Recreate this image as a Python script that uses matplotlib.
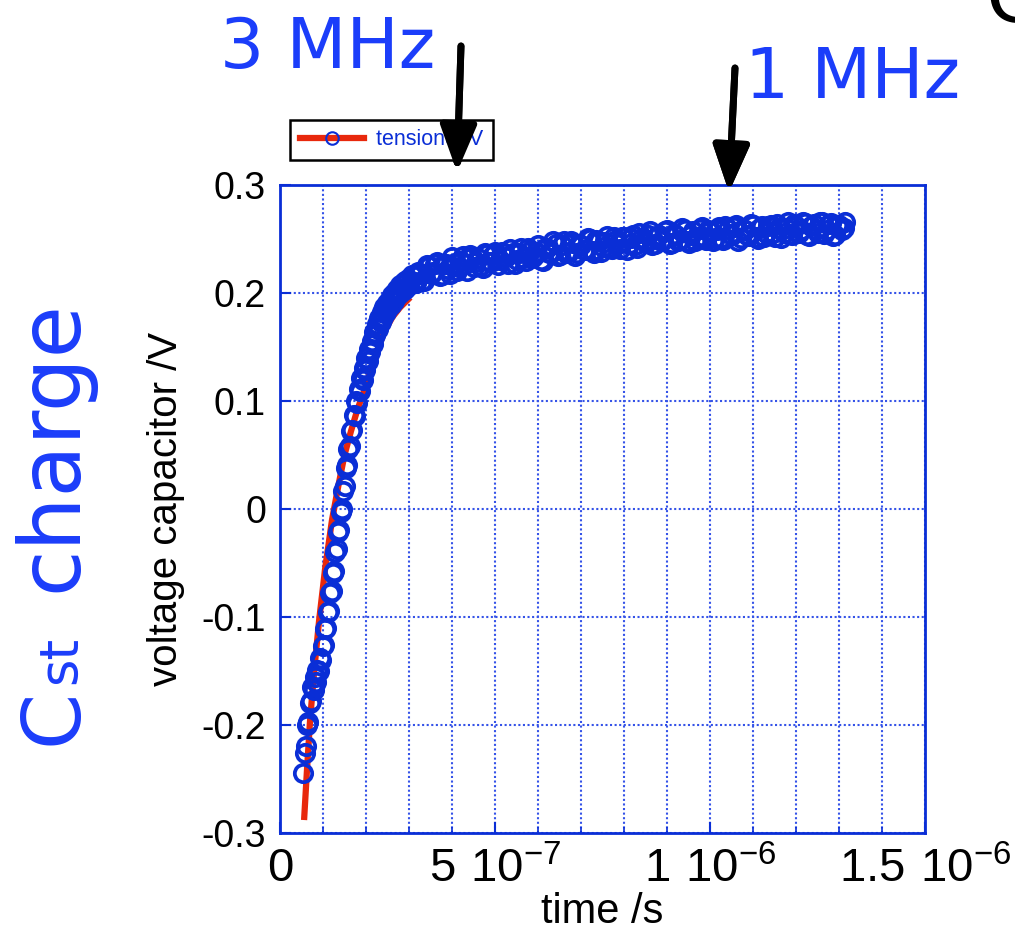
import numpy as np
import matplotlib
matplotlib.use('Agg')
from matplotlib import pyplot as plt
from matplotlib.lines import Line2D
from matplotlib.ticker import MultipleLocator

plt.rcParams['font.family'] = ['Liberation Sans', 'DejaVu Sans']

# measured capacitor voltage (time in ns, voltage in V)
t_meas_ns = [54, 57, 60, 63, 66, 69, 72, 75, 78, 81, 84, 87, 90, 93, 96, 99,
             102, 105, 108, 111, 114, 117, 120, 123, 126, 129, 132, 135, 138,
             141, 144, 147, 150, 153, 156, 159, 162, 165, 168, 171, 174, 177,
             180, 183, 186, 189, 192, 195, 198, 201, 204, 207, 210, 213, 216,
             219, 222, 225, 228, 231, 234, 237, 240, 243, 246, 249, 252, 255,
             258, 261, 264, 267, 270, 273, 276, 279, 282, 285, 288, 291, 294,
             297, 300,
             306, 316, 326, 336, 346, 356, 366, 376, 386, 396, 406, 416, 426,
             436, 446, 456, 466, 476, 486, 496, 506, 516, 526, 536, 546, 556,
             566, 576, 586, 596, 606, 616, 626, 636, 646, 656, 666, 676, 686,
             696, 706, 716, 726, 736, 746, 756, 766, 776, 786, 796, 806, 816,
             826, 836, 846, 856, 866, 876, 886, 896, 906, 916, 926, 936, 946,
             956, 966, 976, 986, 996, 1006, 1016, 1026, 1036, 1046, 1056, 1066,
             1076, 1086, 1096, 1106, 1116, 1126, 1136, 1146, 1156, 1166, 1176,
             1186, 1196, 1206, 1216, 1226, 1236, 1246, 1256, 1266, 1276, 1286,
             1296, 1306, 1314,
             311, 321, 331, 341, 351, 361, 371, 381, 391, 401, 411, 421, 431,
             441, 451, 461, 471, 481, 491, 501, 511, 521, 531, 541, 551, 561,
             571, 581, 591, 601, 611, 621, 631, 641, 651, 661, 671, 681, 691,
             701, 711, 721, 731, 741, 751, 761, 771, 781, 791, 801, 811, 821,
             831, 841, 851, 861, 871, 881, 891, 901, 911, 921, 931, 941, 951,
             961, 971, 981, 991, 1001, 1011, 1021, 1031, 1041, 1051, 1061,
             1071, 1081, 1091, 1101, 1111, 1121, 1131, 1141, 1151, 1161, 1171,
             1181, 1191, 1201, 1211, 1221, 1231, 1241, 1251, 1261, 1271, 1281,
             1291, 1301, 1311]
v_meas = [-0.244, -0.226, -0.219, -0.200, -0.197, -0.180, -0.178, -0.165,
          -0.168, -0.156, -0.160, -0.149, -0.150, -0.138, -0.140, -0.127,
          -0.126, -0.111, -0.110, -0.095, -0.094, -0.078, -0.076, -0.059,
          -0.057, -0.040, -0.037, -0.021, -0.019, -0.003, 0.000, 0.017,
          0.021, 0.038, 0.041, 0.056, 0.058, 0.072, 0.073, 0.087, 0.086,
          0.100, 0.098, 0.111, 0.109, 0.121, 0.119, 0.131, 0.129, 0.140,
          0.137, 0.148, 0.145, 0.156, 0.153, 0.164, 0.161, 0.171, 0.167,
          0.177, 0.173, 0.182, 0.178, 0.187, 0.182, 0.191, 0.186, 0.194,
          0.189, 0.198, 0.193, 0.201, 0.196, 0.204, 0.199, 0.207, 0.201,
          0.209, 0.203, 0.211, 0.205, 0.213, 0.207,
          0.217, 0.209, 0.218, 0.211, 0.225, 0.219, 0.229, 0.217, 0.227,
          0.218, 0.228, 0.224, 0.234, 0.220, 0.233, 0.229, 0.225, 0.237,
          0.229, 0.235, 0.226, 0.238, 0.233, 0.241, 0.227, 0.237, 0.232,
          0.242, 0.232, 0.238, 0.231, 0.242, 0.237, 0.248, 0.234, 0.244,
          0.237, 0.248, 0.234, 0.245, 0.240, 0.251, 0.239, 0.249, 0.238,
          0.247, 0.242, 0.252, 0.245, 0.252, 0.240, 0.251, 0.244, 0.256,
          0.248, 0.254, 0.244, 0.253, 0.248, 0.257, 0.245, 0.255, 0.248,
          0.260, 0.248, 0.254, 0.248, 0.259, 0.252, 0.258, 0.248, 0.258,
          0.251, 0.262, 0.255, 0.261, 0.248, 0.259, 0.254, 0.264, 0.252,
          0.260, 0.252, 0.262, 0.256, 0.264, 0.251, 0.260, 0.255, 0.264,
          0.256, 0.266, 0.254, 0.262, 0.258, 0.266, 0.255, 0.264, 0.253,
          0.263, 0.258, 0.266,
          0.210, 0.219, 0.211, 0.226, 0.218, 0.227, 0.216, 0.227, 0.222,
          0.233, 0.220, 0.230, 0.227, 0.235, 0.224, 0.232, 0.223, 0.236,
          0.229, 0.238, 0.231, 0.237, 0.227, 0.237, 0.231, 0.242, 0.230,
          0.239, 0.234, 0.244, 0.230, 0.242, 0.237, 0.245, 0.235, 0.248,
          0.238, 0.246, 0.237, 0.244, 0.240, 0.250, 0.237, 0.248, 0.243,
          0.253, 0.241, 0.249, 0.241, 0.252, 0.245, 0.254, 0.242, 0.251,
          0.246, 0.257, 0.245, 0.254, 0.249, 0.258, 0.246, 0.254, 0.249,
          0.258, 0.246, 0.257, 0.252, 0.261, 0.249, 0.257, 0.251, 0.261,
          0.249, 0.259, 0.254, 0.263, 0.251, 0.258, 0.253, 0.263, 0.250,
          0.262, 0.256, 0.263, 0.252, 0.260, 0.256, 0.266, 0.254, 0.262,
          0.258, 0.265, 0.253, 0.264, 0.256, 0.266, 0.258, 0.265, 0.254,
          0.263, 0.260]

# fitted charging curve
t_fit_ns = [56, 63, 70, 80, 91, 105, 121, 136, 150, 165, 180, 198, 215, 229,
            245, 262, 280, 303]
v_fit = [-0.288, -0.240, -0.195, -0.148, -0.103, -0.055, -0.010, 0.022,
         0.050, 0.072, 0.092, 0.112, 0.134, 0.150, 0.166, 0.178, 0.187, 0.196]

x_ticks = [0, 5e-7, 1e-6, 1.5e-6]
x_ticklabels = [r'$\mathregular{0}$', r'$\mathregular{5\ 10^{-7}}$',
                r'$\mathregular{1\ 10^{-6}}$', r'$\mathregular{1.5\ 10^{-6}}$']
y_ticks = [-0.3, -0.2, -0.1, 0, 0.1, 0.2, 0.3]
y_ticklabels = ['-0.3', '-0.2', '-0.1', '0', '0.1', '0.2', '0.3']

blue = '#0a2ed6'
grid_blue = '#3553e8'
red = '#e8280c'
text_blue = '#1b3dfa'

W, H = 1015, 944
fig = plt.figure(figsize=(W / 100, H / 100), dpi=100)
ax = fig.add_axes([280 / W, 1 - 833 / H, 645 / W, 648 / H])

t_meas = np.array(t_meas_ns) * 1e-9
t_fit = np.array(t_fit_ns) * 1e-9

ax.plot(t_fit, v_fit, color=red, lw=4.5, solid_capstyle='butt', zorder=2)
ax.plot(t_meas, v_meas, ls='none', marker='o', ms=12.5, mfc='none',
        mec=blue, mew=2.7, zorder=3)

ax.set_xlim(0, 1.5e-6)
ax.set_ylim(-0.3, 0.3)
ax.set_xticks(x_ticks)
ax.set_xticklabels(x_ticklabels, fontsize=34)
ax.xaxis.set_minor_locator(MultipleLocator(1e-7))
ax.set_yticks(y_ticks)
ax.set_yticklabels(y_ticklabels, fontsize=27)

ax.grid(which='both', axis='x', color=grid_blue, ls=(0, (1, 1.2)), lw=1.5)
ax.grid(which='major', axis='y', color=grid_blue, ls=(0, (1, 1.2)), lw=1.5)
ax.set_axisbelow(True)
for sp in ax.spines.values():
    sp.set_color(blue)
    sp.set_linewidth(2)
ax.tick_params(which='both', direction='in', color=blue, top=False, right=False)
ax.tick_params(which='major', length=8, width=1.5, pad=10)
ax.tick_params(which='minor', length=4, width=1.2)

ax.set_xlabel('time /s', fontsize=30, labelpad=0)
ax.set_ylabel('voltage capacitor /V', fontsize=29, labelpad=12)

handle = Line2D([], [], color=red, lw=4.5, marker='o', ms=9, mfc='none',
                mec=blue, mew=1.5)
leg = ax.legend([handle], ['tensione /V'], loc='lower left',
                bbox_to_anchor=(290 / W, 1 - 160 / H),
                bbox_transform=fig.transFigure, fancybox=False,
                framealpha=1, edgecolor='black', fontsize=15.5,
                handlelength=3.0, handletextpad=0.55, numpoints=1,
                borderpad=0.45, borderaxespad=0, labelcolor=blue)
leg.get_frame().set_linewidth(1.8)

# annotations around the plot
fig.text(220 / W, 1 - 68 / H, '3 MHz', color=text_blue, fontsize=50,
         family='DejaVu Sans', ha='left', va='baseline')
fig.text(745 / W, 1 - 98 / H, '1 MHz', color=text_blue, fontsize=50,
         family='DejaVu Sans', ha='left', va='baseline')
fig.text(986 / W, 1 - 22 / H, 'G', color='black', fontsize=56,
         family='DejaVu Sans', ha='left', va='baseline')

fig.text(76 / W, 1 - 745 / H, 'C', color=text_blue, fontsize=58,
         family='DejaVu Sans', rotation=90, rotation_mode='anchor',
         ha='left', va='baseline')
fig.text(76 / W, 1 - 684 / H, 'st', color=text_blue, fontsize=38,
         family='DejaVu Sans', rotation=90, rotation_mode='anchor',
         ha='left', va='baseline')
fig.text(76 / W, 1 - 592 / H, 'charge', color=text_blue, fontsize=61,
         family='DejaVu Sans', rotation=90, rotation_mode='anchor',
         ha='left', va='baseline')

for x0, y0, x1, y1 in [(461, 46, 457, 172), (735, 68, 729, 192)]:
    fig.add_artist(plt.annotate(
        '', xy=(x1, H - y1), xytext=(x0, H - y0),
        xycoords='figure pixels', textcoords='figure pixels',
        arrowprops=dict(arrowstyle='-|>,head_length=1.4,head_width=0.55',
                        lw=5, color='black', mutation_scale=20,
                        shrinkA=0, shrinkB=0)))

fig.savefig('out.png', dpi=100)
